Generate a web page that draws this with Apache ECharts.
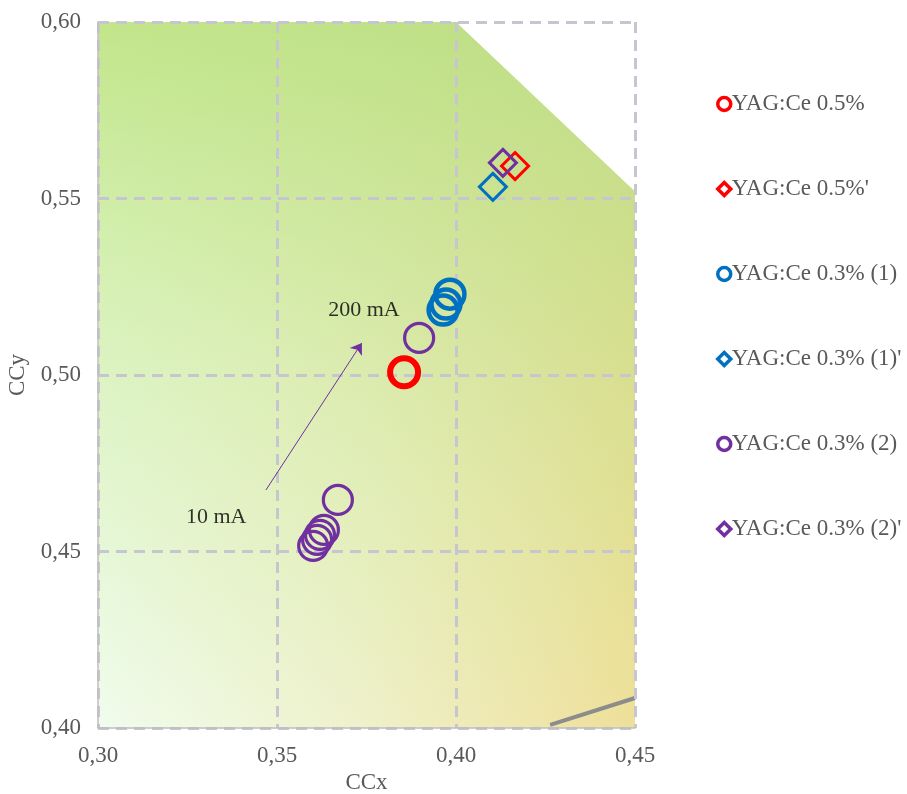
<!DOCTYPE html>
<html><head><meta charset="utf-8">
<script src="https://cdn.jsdelivr.net/npm/echarts@6/dist/echarts.min.js"></script>
<style>html,body{margin:0;padding:0;background:#fff}#c{width:907px;height:794px}</style>
</head><body><div id="c"></div>
<script>
// ---- data ----
const xTicks = [0.30, 0.35, 0.40, 0.45];
const yTicks = [0.40, 0.45, 0.50, 0.55, 0.60];
const seriesNames = ['YAG:Ce 0.5%', "YAG:Ce 0.5%'", 'YAG:Ce 0.3% (1)', "YAG:Ce 0.3% (1)'", 'YAG:Ce 0.3% (2)', "YAG:Ce 0.3% (2)'"];
const yag05   = [[0.3855, 0.5008]];
const yag05p  = [[0.4165, 0.5592]];
const yag03a  = [[0.3983, 0.5229], [0.3972, 0.5201], [0.3964, 0.5184]];
const yag03ap = [[0.4103, 0.5533]];
const yag03b  = [[0.3897, 0.5105], [0.3670, 0.4646], [0.3631, 0.4561], [0.3620, 0.4547], [0.3612, 0.4533], [0.3601, 0.4516]];
const yag03bp = [[0.4131, 0.5601]];
const arrowFrom = [0.3469, 0.4674];
const arrowTo   = [0.3737, 0.5091];
const annotations = [[0.3743, 0.5184, '200 mA'], [0.3330, 0.4598, '10 mA']];
const gamutEdge = [[0.40, 0.60], [0.45, 0.552], [0.45, 0.60]];
const locusSegment = [[0.4263, 0.4009], [0.45, 0.4085]];

// ---- styles ----
const RED = '#ff0000', BLUE = '#0070c0', PURPLE = '#7030a0';
const FONT = 'Liberation Serif';
const xMin = xTicks[0], xMax = xTicks[xTicks.length - 1];
const yMin = yTicks[0], yMax = yTicks[yTicks.length - 1];
const fmt = v => v.toFixed(2).replace('.', ',');

function lin(x, y, x2, y2, stops) {
  return { type: 'linear', x: x, y: y, x2: x2, y2: y2, colorStops: stops.map(s => ({ offset: s[0], color: s[1] })) };
}

const chart = echarts.init(document.getElementById('c'), null, { renderer: 'canvas' });

function circleSeries(name, data, color, bw, size) {
  return {
    name: name, type: 'scatter', data: data, symbol: 'circle', symbolSize: size,
    itemStyle: { color: 'rgba(0,0,0,0)', borderColor: color, borderWidth: bw, opacity: 1 },
    emphasis: { disabled: true }, z: 3
  };
}
function diamondSeries(name, data, color) {
  return {
    name: name, type: 'scatter', data: data, symbol: 'diamond', symbolSize: 27,
    itemStyle: { color: 'rgba(0,0,0,0)', borderColor: color, borderWidth: 3, opacity: 1 },
    emphasis: { disabled: true }, z: 3
  };
}

const legendColors = [RED, RED, BLUE, BLUE, PURPLE, PURPLE];
const legendIcons = ['circle', 'diamond', 'circle', 'diamond', 'circle', 'diamond'];

chart.setOption({
  animation: false,
  backgroundColor: '#ffffff',
  grid: { left: 98, right: 272, top: 22, bottom: 66, show: false, containLabel: false, outerBoundsMode: 'none' },
  xAxis: {
    type: 'value', min: xMin, max: xMax, interval: 0.05,
    name: 'CCx', nameLocation: 'middle', nameGap: 43,
    nameTextStyle: { fontFamily: FONT, fontSize: 23, color: '#595959' },
    axisLine: { show: true, lineStyle: { color: '#bfbfbf', width: 1.5 } },
    axisTick: { show: false },
    axisLabel: { formatter: fmt, fontFamily: FONT, fontSize: 23, color: '#595959', margin: 16 },
    splitLine: { show: true, lineStyle: { color: '#c6c6d0', width: 3, type: [11, 7] } }
  },
  yAxis: {
    type: 'value', min: yMin, max: yMax, interval: 0.05,
    name: 'CCy', nameLocation: 'middle', nameGap: 66,
    nameTextStyle: { fontFamily: FONT, fontSize: 23, color: '#595959' },
    axisLine: { show: true, lineStyle: { color: '#bfbfbf', width: 1.5 } },
    axisTick: { show: false },
    axisLabel: { formatter: fmt, fontFamily: FONT, fontSize: 23, color: '#595959', margin: 17 },
    splitLine: { show: true, lineStyle: { color: '#c6c6d0', width: 3, type: [11, 7] } }
  },
  legend: {
    orient: 'vertical', left: 711, top: 87, itemGap: 61,
    itemWidth: 13, itemHeight: 13, selectedMode: false,
    textStyle: { fontFamily: FONT, fontSize: 23, lineHeight: 24, color: '#595959', padding: [0, 0, 0, -4] },
    data: seriesNames.map((n, i) => ({
      name: n, icon: legendIcons[i],
      itemStyle: { color: '#ffffff', borderColor: legendColors[i], borderWidth: 3.5, opacity: 1 }
    }))
  },
  series: [
    {
      type: 'custom', name: 'bg', silent: true, z: -1,
      data: [[xMin, yMax]],
      renderItem: function (params, api) {
        const p0 = api.coord([xMin, yMax]);
        const p1 = api.coord([xMax, yMin]);
        const shape = { x: p0[0], y: p0[1], width: p1[0] - p0[0], height: p1[1] - p0[1] };
        return {
          type: 'group',
          children: [
            { type: 'rect', shape: shape, style: { fill: lin(0, 0, 1, 0, [[0, '#f0fced'], [0.5, '#f0f2cc'], [1, '#f1e29c']]) } },
            { type: 'rect', shape: shape, style: { fill: lin(0, 0, 0, 1, [[0, 'rgba(198,237,145,1)'], [0.5, 'rgba(198,237,145,0.42)'], [1, 'rgba(198,237,145,0)']]) } },
            { type: 'rect', shape: shape, style: { fill: lin(0, 1, 1, 0, [[0, 'rgba(140,130,60,0)'], [0.45, 'rgba(140,130,60,0.03)'], [1, 'rgba(140,130,60,0.15)']]) } },
            { type: 'polygon', shape: { points: gamutEdge.map(p => api.coord(p)) }, style: { fill: '#ffffff' } }
          ]
        };
      }
    },
    {
      type: 'line', name: 'locus', data: locusSegment, symbol: 'none', silent: true, z: -0.5,
      lineStyle: { color: '#8c8c8c', width: 4 }
    },
    circleSeries(seriesNames[0], yag05, RED, 6, 28),
    diamondSeries(seriesNames[1], yag05p, RED),
    circleSeries(seriesNames[2], yag03a, BLUE, 4.5, 29),
    diamondSeries(seriesNames[3], yag03ap, BLUE),
    circleSeries(seriesNames[4], yag03b, PURPLE, 3.2, 29),
    diamondSeries(seriesNames[5], yag03bp, PURPLE),
    {
      type: 'scatter', name: 'notes', data: annotations, symbolSize: 1, silent: true, z: 4,
      itemStyle: { color: 'rgba(0,0,0,0)' },
      label: { show: true, position: 'inside', formatter: p => p.data[2], fontFamily: FONT, fontSize: 22, color: '#000000' },
      markLine: {
        silent: true, animation: false, symbol: ['none', 'arrow'], symbolSize: 11,
        lineStyle: { color: PURPLE, width: 1, type: 'solid' },
        label: { show: false },
        emphasis: { disabled: true },
        data: [[{ coord: arrowFrom }, { coord: arrowTo }]]
      }
    }
  ]
});
</script>
</body></html>
